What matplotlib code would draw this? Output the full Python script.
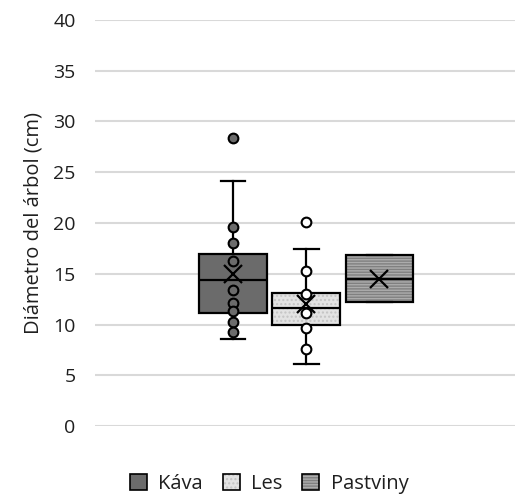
import matplotlib
matplotlib.use("Agg")
import matplotlib.pyplot as plt
from matplotlib.patches import Patch

plt.rcParams['font.family'] = ['Open Sans', 'DejaVu Sans']
plt.rcParams['hatch.linewidth'] = 1.0

series = ["Káva", "Les", "Pastviny"]
q1 = [11.1, 10.0, 12.2]
med = [14.35, 11.6, 14.5]
q3 = [16.9, 13.07, 16.8]
wlo = [8.57, 6.07, 12.2]
whi = [24.1, 17.4, 16.8]
means = [15.0, 12.0, 14.5]
outliers = [[28.4], [20.07], []]
inner_points = [
    [19.6, 18.0, 16.3, 13.4, 12.1, 11.3, 10.2, 9.3],
    [15.27, 13.0, 11.1, 9.7, 7.6],
    [],
]
yticks = [0, 5, 10, 15, 20, 25, 30, 35, 40]
ylabel = "Diámetro del árbol (cm)"

fills = ["#6b6b6b", "#e3e3e3", "#808080"]
hatches = [None, "....", "------"]
hatch_colors = [None, "#c4c4c4", "#acacac"]
point_faces = ["#6b6b6b", "white", "white"]
text_color = "#1f1f1f"

fig = plt.figure(figsize=(5.2, 4.98), dpi=100)
ax = fig.add_axes([95/520, 1-426/498, 420/520, 406/498])

positions = [1, 2, 3]
stats = []
for i, s in enumerate(series):
    stats.append(dict(label=s, q1=q1[i], med=med[i], q3=q3[i], whislo=wlo[i],
                      whishi=whi[i], mean=means[i], fliers=[]))

bp = ax.bxp(stats, positions=positions, widths=0.92, patch_artist=True,
            showmeans=False, showfliers=False, showcaps=True,
            boxprops=dict(linewidth=1.6, edgecolor="black"),
            medianprops=dict(color="black", linewidth=1.6),
            whiskerprops=dict(color="black", linewidth=1.6),
            capprops=dict(color="black", linewidth=1.6),
            capwidths=0.34, zorder=3)
for i, b in enumerate(bp['boxes']):
    b.set_facecolor(fills[i])
    if hatches[i]:
        b.set_hatch(hatches[i])
        b._hatch_color = matplotlib.colors.to_rgba(hatch_colors[i])

for i in range(3):
    pts = inner_points[i] + outliers[i]
    if pts:
        ax.plot([positions[i]]*len(pts), pts, linestyle="none", marker="o",
                ms=7, mfc=point_faces[i], mec="black", mew=1.5, zorder=5)
    ax.plot([positions[i]], [means[i]], linestyle="none", marker="x", ms=13,
            mec="black", mew=1.6, zorder=6)

ax.set_xlim(-0.89, 4.86)
ax.set_ylim(0, 40)
ax.set_yticks(yticks)
ax.set_xticks([])
ax.yaxis.grid(True, color="#d9d9d9", linewidth=1.5, zorder=0)
ax.set_axisbelow(True)
for sp in ax.spines.values():
    sp.set_visible(False)
ax.tick_params(axis='y', length=0, pad=14, labelsize=14, labelcolor=text_color)
ax.set_ylabel(ylabel, fontsize=14.5, color=text_color, labelpad=7)

handles = []
for i, s in enumerate(series):
    p = Patch(facecolor=fills[i], edgecolor="black", linewidth=1.2,
              hatch=hatches[i], label=s)
    handles.append(p)
leg = fig.legend(handles=handles, loc="center", bbox_to_anchor=(269/520, 1-484/498),
                 ncol=3, frameon=False, fontsize=14.5, handlelength=0.85,
                 handleheight=0.85, handletextpad=0.55, columnspacing=1.0,
                 labelcolor=text_color)
for i, p in enumerate(leg.get_patches()):
    if hatches[i]:
        p._hatch_color = matplotlib.colors.to_rgba(hatch_colors[i])

fig.savefig("out.png", dpi=100)
